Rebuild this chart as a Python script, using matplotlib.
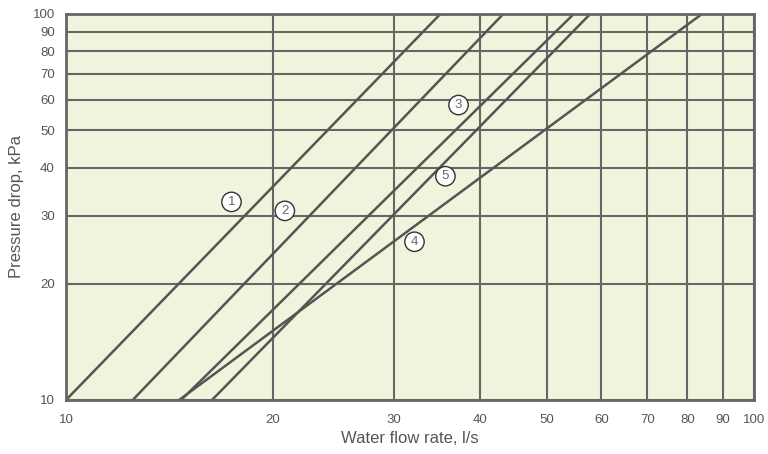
import matplotlib
matplotlib.use("Agg")
import matplotlib.pyplot as plt
from matplotlib.ticker import FixedLocator, FixedFormatter, NullLocator

plt.rcParams['font.family'] = ['Liberation Sans', 'DejaVu Sans']

# Each curve: flow rate (l/s) at two points, pressure drop (kPa)
curve_ids = ["1", "2", "3", "4", "5"]
flow_start = [10.0, 12.5, 14.7, 14.6, 16.3]
flow_end = [35.0, 43.2, 54.7, 84.0, 57.8]
drop_start = [10, 10, 10, 10, 10]
drop_end = [100, 100, 100, 100, 100]

label_x = [17.4, 20.8, 37.2, 32.1, 35.6]
label_y = [32.6, 30.9, 58.1, 25.7, 38.0]

ticks = [10, 20, 30, 40, 50, 60, 70, 80, 90, 100]
tick_labels = ["10", "20", "30", "40", "50", "60", "70", "80", "90", "100"]

bg = "#eff5dc"
grid_c = "#666666"
line_c = "#555555"
text_c = "#555555"

fig = plt.figure(figsize=(7.68, 4.54), dpi=100)
ax = fig.add_axes([66/768, 54/454, 688/768, 386/454])
ax.set_facecolor(bg)
ax.set_xscale("log")
ax.set_yscale("log")
ax.set_xlim(10, 100)
ax.set_ylim(10, 100)

for t in ticks:
    ax.axvline(t, color=grid_c, lw=1.5, zorder=1)
    ax.axhline(t, color=grid_c, lw=1.5, zorder=1)

for i in range(len(curve_ids)):
    ax.plot([flow_start[i], flow_end[i]], [drop_start[i], drop_end[i]],
            color=line_c, lw=1.8, zorder=2, solid_capstyle='butt')
    ax.text(label_x[i], label_y[i], curve_ids[i], ha="center", va="center",
            fontsize=9.5, color="#666666", zorder=3,
            bbox=dict(boxstyle="circle,pad=0.28", fc="white", ec="#333333", lw=1.0))

ax.xaxis.set_major_locator(FixedLocator(ticks))
ax.xaxis.set_major_formatter(FixedFormatter(tick_labels))
ax.xaxis.set_minor_locator(NullLocator())
ax.yaxis.set_major_locator(FixedLocator(ticks))
ax.yaxis.set_major_formatter(FixedFormatter(tick_labels))
ax.yaxis.set_minor_locator(NullLocator())
ax.tick_params(axis="both", length=0, labelsize=9.5, colors=text_c)
ax.tick_params(axis="x", pad=10)
ax.tick_params(axis="y", pad=8)

for s in ax.spines.values():
    s.set_color(grid_c)
    s.set_linewidth(2)
    s.set_zorder(4)

ax.set_xlabel("Water flow rate, l/s", fontsize=12, color=text_c, labelpad=4)
ax.set_ylabel("Pressure drop, kPa", fontsize=12, color=text_c, labelpad=6)

fig.savefig("out.png", dpi=100, facecolor="white")
